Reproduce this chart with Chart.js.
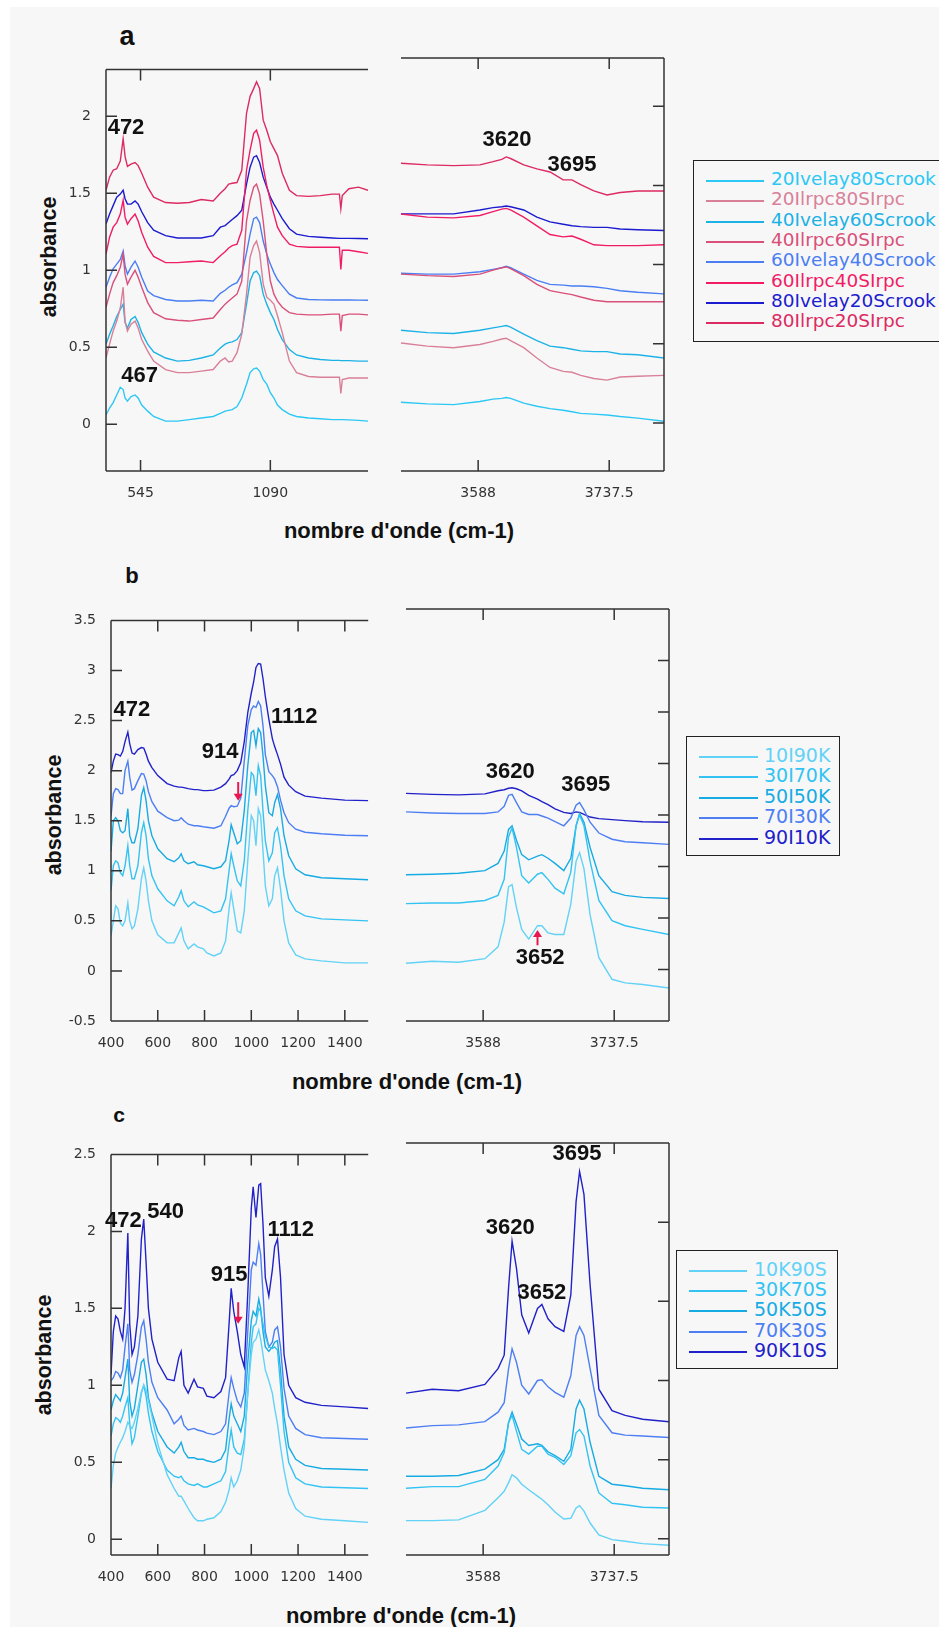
<!DOCTYPE html>
<html>
<head>
<meta charset="utf-8">
<title>spectres IR</title>
<script src="https://cdn.jsdelivr.net/npm/chart.js@4.4.1/dist/chart.umd.min.js"></script>
<style>
    body { margin: 0; background: #fff; }
    #page { position: relative; width: 939px; height: 1627px; overflow: hidden; background: #fff; }
    #sheet { position: absolute; left: 10px; top: 7px; right: 0; bottom: 0; background: #f7f7f7; }
    canvas { position: absolute; }
    .lbl { position: absolute; font-family: Arial, 'Liberation Sans', sans-serif; font-weight: bold; color: #111;
           white-space: nowrap; line-height: 1; transform: translate(-50%, -50%); }
    .ytitle { transform: translate(-50%, -50%) rotate(-90deg); }
    .legend-box { position: absolute; border: 1.5px solid #222; box-sizing: border-box; }
    .legend-line { position: absolute; height: 2px; }
    .legend-text { position: absolute; font-family: 'DejaVu Sans', Verdana, sans-serif; line-height: 1;
                   white-space: nowrap; transform: translateY(-50%); }
</style>
</head>
<body>
<div id="page">
    <div id="sheet"></div>

    <div class="lbl" style="left:127px; top:36px; font-size:27px;">a</div>
    <div class="lbl" style="left:132px; top:576px; font-size:22px;">b</div>
    <div class="lbl" style="left:119px; top:1114px; font-size:21px;">c</div>

    <div class="lbl ytitle" style="left:50px; top:257px; font-size:21.5px;">absorbance</div>
    <div class="lbl ytitle" style="left:55px; top:815px; font-size:21.5px;">absorbance</div>
    <div class="lbl ytitle" style="left:45px; top:1355px; font-size:21.5px;">absorbance</div>

    <div class="lbl" style="left:399px; top:531px; font-size:22px;">nombre d'onde (cm-1)</div>
    <div class="lbl" style="left:407px; top:1082px; font-size:22px;">nombre d'onde (cm-1)</div>
    <div class="lbl" style="left:401px; top:1616px; font-size:22px;">nombre d'onde (cm-1)</div>
</div>

<script>
// ---------- panel a ----------
const aNames = ['20Ivelay80Scrook', '20Ilrpc80SIrpc', '40Ivelay60Scrook', '40Ilrpc60SIrpc',
                '60Ivelay40Scrook', '60Ilrpc40SIrpc', '80Ivelay20Scrook', '80Ilrpc20SIrpc'];

const aLeftX = [400, 415, 430, 445, 460, 472, 480, 490, 505, 522, 535, 550, 575, 600, 650,
                700, 750, 800, 850, 880, 900, 915, 930, 950, 970, 990, 1005, 1020, 1032, 1045,
                1060, 1075, 1090, 1105, 1120, 1140, 1170, 1200, 1250, 1300, 1350, 1380, 1386, 1392, 1420,
                1460, 1500];
const aL1 = [0.06, 0.105, 0.14, 0.19, 0.24, 0.225, 0.17, 0.15, 0.18, 0.19, 0.17, 0.125, 0.085, 0.05, 0.02,
             0.02, 0.03, 0.04, 0.05, 0.07, 0.085, 0.09, 0.095, 0.115, 0.17, 0.26, 0.335, 0.36, 0.365, 0.345,
             0.29, 0.26, 0.205, 0.17, 0.125, 0.095, 0.065, 0.05, 0.04, 0.035, 0.03, 0.03, 0.03, 0.03, 0.028,
             0.025, 0.02];
const aL2 = [0.43, 0.52, 0.605, 0.67, 0.755, 0.89, 0.67, 0.605, 0.65, 0.67, 0.625, 0.55, 0.475, 0.41, 0.355,
             0.335, 0.335, 0.345, 0.355, 0.41, 0.43, 0.405, 0.41, 0.465, 0.585, 0.845, 1.085, 1.16, 1.19, 1.115,
             0.91, 0.825, 0.805, 0.78, 0.705, 0.595, 0.41, 0.335, 0.31, 0.305, 0.305, 0.305, 0.20, 0.29, 0.30,
             0.30, 0.30];
const aL3 = [0.52, 0.585, 0.64, 0.70, 0.745, 0.78, 0.66, 0.625, 0.68, 0.70, 0.66, 0.595, 0.52, 0.47, 0.43,
             0.41, 0.415, 0.43, 0.45, 0.495, 0.52, 0.53, 0.535, 0.55, 0.595, 0.78, 0.93, 0.985, 0.995, 0.965,
             0.845, 0.78, 0.725, 0.68, 0.615, 0.55, 0.485, 0.45, 0.43, 0.42, 0.415, 0.415, 0.413, 0.413, 0.413,
             0.41, 0.41];
const aL4 = [0.76, 0.845, 0.92, 0.965, 1.02, 1.105, 0.975, 0.91, 0.955, 1.00, 0.955, 0.89, 0.79, 0.725, 0.685,
             0.675, 0.67, 0.68, 0.69, 0.745, 0.78, 0.80, 0.82, 0.845, 0.93, 1.32, 1.455, 1.54, 1.56, 1.495,
             1.32, 1.105, 0.93, 0.845, 0.80, 0.76, 0.725, 0.715, 0.71, 0.71, 0.715, 0.715, 0.605, 0.705, 0.715,
             0.715, 0.71];
const aL5 = [0.89, 0.955, 1.01, 1.04, 1.07, 1.125, 1.03, 0.975, 1.02, 1.06, 1.02, 0.955, 0.865, 0.835, 0.81,
             0.80, 0.80, 0.805, 0.80, 0.85, 0.87, 0.89, 0.905, 0.92, 0.975, 1.115, 1.235, 1.335, 1.345, 1.31,
             1.19, 1.105, 1.04, 0.985, 0.94, 0.90, 0.845, 0.82, 0.81, 0.808, 0.807, 0.807, 0.807, 0.807, 0.807,
             0.806, 0.805];
const aL6 = [1.105, 1.215, 1.28, 1.31, 1.365, 1.455, 1.345, 1.30, 1.335, 1.365, 1.32, 1.245, 1.15, 1.09, 1.05,
             1.05, 1.055, 1.06, 1.05, 1.095, 1.12, 1.145, 1.16, 1.17, 1.26, 1.65, 1.78, 1.89, 1.91, 1.845,
             1.67, 1.55, 1.455, 1.365, 1.28, 1.225, 1.17, 1.155, 1.15, 1.15, 1.15, 1.15, 1.005, 1.13, 1.13,
             1.12, 1.11];
const aL7 = [1.30, 1.365, 1.42, 1.475, 1.495, 1.52, 1.465, 1.43, 1.43, 1.45, 1.43, 1.38, 1.31, 1.26, 1.225,
             1.21, 1.21, 1.21, 1.225, 1.28, 1.29, 1.31, 1.33, 1.355, 1.39, 1.56, 1.67, 1.735, 1.745, 1.70,
             1.605, 1.54, 1.475, 1.43, 1.39, 1.335, 1.27, 1.235, 1.22, 1.215, 1.21, 1.207, 1.207, 1.207, 1.207,
             1.206, 1.205];
const aL8 = [1.52, 1.605, 1.65, 1.66, 1.71, 1.855, 1.74, 1.675, 1.69, 1.70, 1.68, 1.63, 1.54, 1.475, 1.44,
             1.435, 1.44, 1.46, 1.45, 1.50, 1.53, 1.56, 1.565, 1.57, 1.65, 2.02, 2.13, 2.18, 2.225, 2.18,
             1.975, 1.91, 1.835, 1.79, 1.745, 1.63, 1.52, 1.485, 1.48, 1.485, 1.495, 1.495, 1.40, 1.485, 1.53,
             1.54, 1.52];

const aRightX = [3500, 3530, 3560, 3590, 3605, 3615, 3620, 3625, 3640, 3655,
                 3670, 3685, 3695, 3705, 3720, 3735, 3750, 3770, 3800];
const aR1 = [0.13, 0.12, 0.115, 0.135, 0.15, 0.155, 0.16, 0.155, 0.125, 0.105, 0.09, 0.08, 0.07, 0.06, 0.055, 0.05, 0.04, 0.03, 0.01];
const aR2 = [0.505, 0.485, 0.475, 0.495, 0.515, 0.53, 0.535, 0.52, 0.475, 0.41, 0.35, 0.325, 0.32, 0.30, 0.28, 0.27, 0.29, 0.295, 0.30];
const aR3 = [0.585, 0.57, 0.565, 0.585, 0.60, 0.61, 0.615, 0.605, 0.56, 0.52, 0.485, 0.475, 0.465, 0.455, 0.45, 0.45, 0.435, 0.43, 0.41];
const aR4 = [0.94, 0.93, 0.925, 0.94, 0.965, 0.98, 0.985, 0.975, 0.93, 0.875, 0.835, 0.82, 0.81, 0.795, 0.775, 0.765, 0.765, 0.765, 0.765];
const aR5 = [0.945, 0.94, 0.94, 0.955, 0.97, 0.98, 0.99, 0.98, 0.94, 0.90, 0.875, 0.87, 0.865, 0.865, 0.86, 0.85, 0.835, 0.825, 0.815];
const aR6 = [1.32, 1.30, 1.295, 1.31, 1.335, 1.35, 1.355, 1.345, 1.30, 1.245, 1.19, 1.175, 1.18, 1.16, 1.125, 1.12, 1.12, 1.12, 1.125];
const aR7 = [1.32, 1.32, 1.32, 1.345, 1.36, 1.365, 1.37, 1.365, 1.345, 1.30, 1.27, 1.255, 1.245, 1.24, 1.235, 1.235, 1.225, 1.22, 1.215];
const aR8 = [1.64, 1.63, 1.625, 1.63, 1.65, 1.665, 1.68, 1.67, 1.63, 1.605, 1.585, 1.535, 1.535, 1.505, 1.465, 1.44, 1.455, 1.465, 1.465];

const aXTicksLeft = [545, 1090];
const aYTicks = [0, 0.5, 1, 1.5, 2];

// ---------- panel b ----------
const bNames = ['10I90K', '30I70K', '50I50K', '70I30K', '90I10K'];

const bLeftX = [400, 410, 420, 430, 440, 450, 460, 472, 480, 490, 500, 515, 530, 540, 550, 560,
                575, 600, 640, 670, 690, 700, 712, 730, 755, 770, 795, 810, 840, 870, 890,
                905, 914, 925, 940, 955, 970, 985, 1000, 1010, 1020, 1030, 1040, 1050, 1060, 1075,
                1090, 1100, 1112, 1125, 1140, 1160, 1190, 1230, 1300, 1400, 1500];
const bL1 = [0.35, 0.50, 0.65, 0.62, 0.48, 0.45, 0.50, 0.68, 0.50, 0.42, 0.45, 0.62, 0.92, 1.03, 0.90, 0.70,
             0.50, 0.36, 0.28, 0.28, 0.38, 0.43, 0.30, 0.22, 0.27, 0.24, 0.22, 0.18, 0.15, 0.18, 0.30,
             0.62, 0.78, 0.62, 0.40, 0.38, 0.60, 1.10, 1.55, 1.50, 1.25, 1.62, 1.55, 1.20, 0.85, 0.65,
             0.72, 0.95, 1.03, 0.82, 0.50, 0.28, 0.16, 0.12, 0.10, 0.08, 0.08];
const bL2 = [0.80, 1.05, 1.10, 1.08, 0.98, 0.95, 1.05, 1.25, 1.05, 0.92, 0.92, 1.05, 1.38, 1.48, 1.35, 1.12,
             0.95, 0.82, 0.70, 0.65, 0.74, 0.80, 0.70, 0.64, 0.69, 0.66, 0.64, 0.62, 0.58, 0.60, 0.72,
             1.00, 1.17, 1.05, 0.90, 0.85, 1.10, 1.60, 1.98, 1.95, 1.75, 2.05, 1.95, 1.60, 1.30, 1.10,
             1.18, 1.38, 1.43, 1.25, 0.95, 0.72, 0.60, 0.55, 0.52, 0.51, 0.50];
const bL3 = [1.19, 1.50, 1.53, 1.50, 1.40, 1.38, 1.40, 1.62, 1.35, 1.28, 1.28, 1.42, 1.75, 1.83, 1.70, 1.50,
             1.35, 1.22, 1.12, 1.09, 1.13, 1.17, 1.10, 1.07, 1.09, 1.06, 1.05, 1.04, 1.02, 1.04, 1.10,
             1.30, 1.46, 1.38, 1.27, 1.30, 1.60, 2.05, 2.38, 2.40, 2.25, 2.42, 2.38, 2.15, 1.85, 1.58,
             1.55, 1.68, 1.76, 1.62, 1.35, 1.15, 1.02, 0.96, 0.93, 0.92, 0.91];
const bL4 = [1.545, 1.77, 1.82, 1.81, 1.77, 1.77, 2.0, 2.095, 1.935, 1.805, 1.82, 1.90, 1.97, 1.965, 1.90, 1.79,
             1.69, 1.595, 1.53, 1.50, 1.505, 1.53, 1.50, 1.465, 1.45, 1.45, 1.44, 1.435, 1.425, 1.45, 1.545,
             1.625, 1.65, 1.64, 1.645, 1.725, 2.095, 2.45, 2.61, 2.645, 2.63, 2.69, 2.645, 2.45, 2.16, 1.99,
             1.95, 1.915, 1.84, 1.705, 1.58, 1.48, 1.415, 1.385, 1.37, 1.355, 1.35];
const bL5 = [1.98, 2.095, 2.165, 2.16, 2.145, 2.19, 2.29, 2.385, 2.27, 2.175, 2.165, 2.21, 2.23, 2.225, 2.165, 2.095,
             2.03, 1.95, 1.87, 1.845, 1.835, 1.835, 1.83, 1.82, 1.81, 1.81, 1.80, 1.80, 1.805, 1.835, 1.87,
             1.915, 1.95, 1.96, 2.0, 2.08, 2.29, 2.58, 2.775, 2.885, 3.03, 3.07, 3.065, 2.92, 2.74, 2.515,
             2.32, 2.24, 2.16, 2.065, 1.935, 1.855, 1.79, 1.745, 1.725, 1.705, 1.70];

const rightX = [3500, 3530, 3560, 3590, 3605, 3612, 3617, 3621, 3626, 3632, 3640, 3650, 3655,
                3662, 3670, 3680, 3688, 3694, 3698, 3703, 3710, 3720, 3735, 3750, 3770, 3800];
const bR1 = [0.06, 0.08, 0.07, 0.105, 0.22, 0.46, 0.805, 0.825, 0.60, 0.39, 0.295, 0.425, 0.425,
             0.355, 0.34, 0.34, 0.635, 1.05, 1.135, 0.98, 0.53, 0.115, -0.095, -0.13, -0.145, -0.18];
const bR2 = [0.64, 0.645, 0.645, 0.67, 0.72, 0.875, 1.29, 1.375, 1.185, 0.91, 0.84, 0.925, 0.94,
             0.875, 0.79, 0.735, 0.945, 1.395, 1.50, 1.395, 1.05, 0.67, 0.475, 0.425, 0.39, 0.34];
const bR3 = [0.92, 0.925, 0.935, 0.96, 1.03, 1.15, 1.36, 1.395, 1.255, 1.115, 1.065, 1.10, 1.115,
             1.08, 1.03, 0.96, 1.08, 1.395, 1.515, 1.43, 1.185, 0.91, 0.755, 0.72, 0.70, 0.69];
const bR4 = [1.53, 1.52, 1.515, 1.515, 1.53, 1.585, 1.69, 1.70, 1.62, 1.53, 1.505, 1.505, 1.49,
             1.47, 1.435, 1.395, 1.47, 1.595, 1.62, 1.55, 1.43, 1.325, 1.265, 1.24, 1.23, 1.215];
const bR5 = [1.71, 1.70, 1.695, 1.705, 1.735, 1.745, 1.76, 1.765, 1.755, 1.735, 1.69, 1.655, 1.63,
             1.60, 1.56, 1.525, 1.515, 1.53, 1.525, 1.505, 1.48, 1.465, 1.455, 1.445, 1.435, 1.43];

const leftXTicks = [400, 600, 800, 1000, 1200, 1400];
const rightXTicks = [3588, 3737.5];
const bYTicks = [-0.5, 0, 0.5, 1, 1.5, 2, 2.5, 3, 3.5];

// ---------- panel c ----------
const cNames = ['10K90S', '30K70S', '50K50S', '70K30S', '90K10S'];

const cLeftX = [400, 410, 420, 430, 440, 450, 460, 472, 480, 490, 500, 515, 530, 540, 550, 560,
                575, 600, 640, 670, 690, 700, 712, 730, 755, 770, 795, 810, 840, 870, 890,
                905, 914, 925, 940, 955, 970, 985, 1000, 1008, 1020, 1032, 1040, 1050, 1060, 1075,
                1090, 1100, 1112, 1125, 1140, 1160, 1190, 1230, 1300, 1400, 1500];
const cL1 = [0.33, 0.48, 0.56, 0.60, 0.63, 0.66, 0.70, 0.76, 0.74, 0.72, 0.76, 0.85, 0.96, 1.00, 0.97, 0.90,
             0.80, 0.62, 0.42, 0.33, 0.28, 0.28, 0.25, 0.20, 0.14, 0.12, 0.12, 0.13, 0.14, 0.18, 0.24,
             0.32, 0.40, 0.34, 0.38, 0.45, 0.60, 0.95, 1.20, 1.28, 1.30, 1.36, 1.30, 1.20, 1.10, 1.03,
             0.95, 0.85, 0.75, 0.60, 0.45, 0.30, 0.20, 0.15, 0.13, 0.12, 0.11];
const cL2 = [0.67, 0.75, 0.79, 0.78, 0.76, 0.80, 0.86, 0.92, 0.75, 0.62, 0.66, 0.80, 0.95, 1.00, 0.93, 0.82,
             0.70, 0.57, 0.45, 0.41, 0.40, 0.41, 0.38, 0.36, 0.35, 0.36, 0.34, 0.34, 0.36, 0.38, 0.44,
             0.62, 0.71, 0.60, 0.56, 0.55, 0.65, 0.95, 1.28, 1.38, 1.40, 1.50, 1.48, 1.40, 1.32, 1.25,
             1.24, 1.25, 1.23, 1.00, 0.70, 0.50, 0.40, 0.36, 0.34, 0.335, 0.33];
const cL3 = [0.84, 0.90, 0.94, 0.92, 0.90, 0.95, 1.05, 1.17, 0.90, 0.80, 0.85, 1.00, 1.15, 1.17, 1.07, 0.92,
             0.82, 0.70, 0.60, 0.56, 0.60, 0.63, 0.57, 0.53, 0.53, 0.52, 0.52, 0.51, 0.50, 0.52, 0.58,
             0.78, 0.88, 0.80, 0.75, 0.70, 0.80, 1.15, 1.42, 1.48, 1.45, 1.56, 1.50, 1.35, 1.25, 1.22,
             1.25, 1.28, 1.29, 1.10, 0.80, 0.60, 0.52, 0.48, 0.46, 0.455, 0.45];
const cL4 = [1.03, 1.05, 1.09, 1.08, 1.05, 1.10, 1.25, 1.40, 1.10, 1.02, 1.07, 1.20, 1.38, 1.42, 1.30, 1.15,
             1.02, 0.92, 0.84, 0.75, 0.78, 0.80, 0.74, 0.71, 0.72, 0.71, 0.70, 0.69, 0.68, 0.70, 0.75,
             0.95, 1.05, 0.98, 0.90, 0.86, 0.95, 1.35, 1.75, 1.80, 1.78, 1.92, 1.85, 1.60, 1.35, 1.25,
             1.28, 1.36, 1.38, 1.25, 0.98, 0.80, 0.72, 0.68, 0.66, 0.655, 0.65];
const cL5 = [1.07, 1.35, 1.45, 1.43, 1.35, 1.30, 1.50, 1.99, 1.40, 1.20, 1.25, 1.45, 1.95, 2.08, 1.80, 1.50,
             1.30, 1.15, 1.04, 1.03, 1.18, 1.22, 1.00, 0.95, 1.04, 0.99, 0.98, 0.93, 0.92, 0.96, 1.05,
             1.40, 1.63, 1.48, 1.35, 1.20, 1.12, 1.60, 2.15, 2.29, 2.09, 2.30, 2.31, 2.05, 1.70, 1.58,
             1.75, 1.90, 1.95, 1.70, 1.20, 1.00, 0.92, 0.89, 0.87, 0.86, 0.85];

const cR1 = [0.115, 0.115, 0.12, 0.18, 0.26, 0.30, 0.355, 0.405, 0.385, 0.345, 0.31, 0.27, 0.25,
             0.215, 0.17, 0.125, 0.13, 0.195, 0.21, 0.175, 0.10, 0.025, -0.005, -0.015, -0.03, -0.04];
const cR2 = [0.32, 0.33, 0.33, 0.375, 0.46, 0.545, 0.735, 0.78, 0.68, 0.565, 0.535, 0.585, 0.585,
             0.535, 0.515, 0.47, 0.525, 0.67, 0.69, 0.65, 0.46, 0.29, 0.225, 0.215, 0.20, 0.195];
const cR3 = [0.395, 0.395, 0.40, 0.44, 0.50, 0.565, 0.735, 0.80, 0.725, 0.63, 0.59, 0.60, 0.59,
             0.55, 0.525, 0.49, 0.565, 0.82, 0.875, 0.82, 0.61, 0.395, 0.345, 0.335, 0.32, 0.31];
const cR4 = [0.70, 0.715, 0.72, 0.74, 0.80, 0.86, 1.075, 1.20, 1.115, 0.97, 0.915, 1.0, 1.005,
             0.96, 0.925, 0.895, 1.03, 1.285, 1.34, 1.285, 1.075, 0.78, 0.67, 0.655, 0.65, 0.64];
const cR5 = [0.92, 0.945, 0.935, 0.975, 1.075, 1.16, 1.585, 1.88, 1.71, 1.415, 1.30, 1.455, 1.48,
             1.39, 1.34, 1.31, 1.54, 2.13, 2.32, 2.175, 1.605, 0.945, 0.81, 0.78, 0.755, 0.74];

const cYTicks = [0, 0.5, 1, 1.5, 2, 2.5];

// pics annotés (nombre d'onde, absorbance)
const aNotesLeft = [{ t: '472', x: 484, y: 1.925 }, { t: '467', x: 541, y: 0.316 }];
const aNotesRight = [{ t: '3620', x: 3621, y: 1.79 }, { t: '3695', x: 3695, y: 1.63 }];
const bNotesLeft = [{ t: '472', x: 489, y: 2.605 }, { t: '914', x: 867, y: 2.186 }, { t: '1112', x: 1184, y: 2.54 }];
const bNotesRight = [{ t: '3620', x: 3619, y: 1.915 }, { t: '3695', x: 3705, y: 1.793 }, { t: '3652', x: 3653, y: 0.112 }];
const cNotesLeft = [{ t: '472', x: 453, y: 2.066 }, { t: '540', x: 634, y: 2.129 },
                    { t: '915', x: 905, y: 1.719 }, { t: '1112', x: 1169, y: 2.008 }];
const cNotesRight = [{ t: '3620', x: 3619, y: 1.965 }, { t: '3652', x: 3655, y: 1.555 }, { t: '3695', x: 3695, y: 2.431 }];

// flèches rouges (nombre d'onde, de, vers)
const bArrowsLeft = [{ x: 944, from: 1.886, to: 1.70 }];
const bArrowsRight = [{ x: 3650, from: 0.235, to: 0.384 }];
const cArrowsLeft = [{ x: 944, from: 1.54, to: 1.40 }];

// couleurs
const aColors = ['#2cc8f5', '#d98099', '#1cb2e6', '#d9507a', '#4a7ef2', '#f01d66', '#1c1ccf', '#dc2a62'];
const bcColors = ['#62d2f7', '#33c3f3', '#17abe3', '#4d7ff3', '#2121c9'];

const TICK_FONT = "'DejaVu Sans', Verdana, sans-serif";
const page = document.getElementById('page');

// cadre + graduations vers l'intérieur + annotations
const framePlugin = {
    id: 'frame',
    afterDatasetsDraw(chart, args, opts) {
        const ctx = chart.ctx;
        const a = chart.chartArea;
        const x = chart.scales.x;
        const y = chart.scales.y;
        const sx = opts.side === 'left' ? a.left : a.right;
        const dir = opts.side === 'left' ? 1 : -1;

        ctx.save();
        ctx.strokeStyle = '#333';
        ctx.lineWidth = 1.5;
        ctx.beginPath();
        ctx.moveTo(a.left, a.top); ctx.lineTo(a.right, a.top);
        ctx.moveTo(a.left, a.bottom); ctx.lineTo(a.right, a.bottom);
        ctx.moveTo(sx, a.top); ctx.lineTo(sx, a.bottom);
        x.ticks.forEach(t => {
            const px = x.getPixelForValue(t.value);
            ctx.moveTo(px, a.top); ctx.lineTo(px, a.top + 11);
            ctx.moveTo(px, a.bottom); ctx.lineTo(px, a.bottom - 11);
        });
        y.ticks.forEach(t => {
            const py = y.getPixelForValue(t.value);
            ctx.moveTo(sx, py); ctx.lineTo(sx + dir * 11, py);
        });
        ctx.stroke();

        ctx.fillStyle = '#111';
        ctx.font = 'bold 22px Arial, "Liberation Sans", sans-serif';
        ctx.textAlign = 'center';
        ctx.textBaseline = 'middle';
        (opts.notes || []).forEach(n => {
            ctx.fillText(n.t, x.getPixelForValue(n.x), y.getPixelForValue(n.y));
        });

        ctx.strokeStyle = '#e8184f';
        ctx.fillStyle = '#e8184f';
        ctx.lineWidth = 2;
        (opts.arrows || []).forEach(ar => {
            const px = x.getPixelForValue(ar.x);
            const p1 = y.getPixelForValue(ar.from);
            const p2 = y.getPixelForValue(ar.to);
            const s = p2 > p1 ? 1 : -1;
            ctx.beginPath();
            ctx.moveTo(px, p1); ctx.lineTo(px, p2 - s * 5);
            ctx.stroke();
            ctx.beginPath();
            ctx.moveTo(px, p2);
            ctx.lineTo(px - 4.5, p2 - s * 7);
            ctx.lineTo(px + 4.5, p2 - s * 7);
            ctx.closePath();
            ctx.fill();
        });
        ctx.restore();
    }
};

function makeChart(o) {
    const T = 12, B = 40, R = 4;
    const left = o.side === 'left' ? 20 : o.x0 - 4;
    const L = o.x0 - 20;
    const cv = document.createElement('canvas');
    cv.width = o.x1 + R - left;
    cv.height = o.y1 - o.y0 + T + B;
    cv.style.left = left + 'px';
    cv.style.top = (o.y0 - T) + 'px';
    page.appendChild(cv);

    const tickFont = { family: TICK_FONT, size: 14 };
    return new Chart(cv, {
        type: 'line',
        data: {
            datasets: o.series.map((s, i) => ({
                label: o.names[i],
                data: o.xs.map((xv, j) => ({ x: xv, y: s[j] })),
                borderColor: o.colors[i],
                borderWidth: 1.4,
                pointRadius: 0,
                tension: 0,
                fill: false
            }))
        },
        options: {
            responsive: false,
            animation: false,
            devicePixelRatio: 1,
            events: [],
            layout: { padding: { top: T, right: R, bottom: 0, left: o.side === 'left' ? 0 : 4 } },
            plugins: {
                legend: { display: false },
                tooltip: { enabled: false },
                frame: { side: o.side, notes: o.notes || [], arrows: o.arrows || [] }
            },
            scales: {
                x: {
                    type: 'linear', min: o.xMin, max: o.xMax,
                    grid: { display: false, drawTicks: false },
                    border: { display: false },
                    afterBuildTicks: s => { s.ticks = o.xTicks.map(v => ({ value: v })); },
                    afterFit: s => { s.height = B; },
                    ticks: { padding: 14, autoSkip: false, maxRotation: 0, color: '#333', font: tickFont,
                             callback: v => String(v) }
                },
                y: {
                    type: 'linear', position: o.side, min: o.yMin, max: o.yMax,
                    grid: { display: false, drawTicks: false },
                    border: { display: false },
                    afterBuildTicks: s => { s.ticks = o.yTicks.map(v => ({ value: v })); },
                    afterFit: s => { s.width = o.side === 'left' ? L : 0; },
                    ticks: { display: o.side === 'left', padding: 15, color: '#333', font: tickFont,
                             callback: v => String(v) }
                }
            }
        },
        plugins: [framePlugin]
    });
}

function makeLegend(names, colors, g) {
    const box = document.createElement('div');
    box.className = 'legend-box';
    box.style.left = g.left + 'px';
    box.style.top = g.top + 'px';
    box.style.width = g.width + 'px';
    box.style.height = g.height + 'px';
    page.appendChild(box);
    names.forEach((name, i) => {
        const yy = g.y0 + i * g.step;
        const line = document.createElement('div');
        line.className = 'legend-line';
        line.style.left = g.lx0 + 'px';
        line.style.width = (g.lx1 - g.lx0) + 'px';
        line.style.top = (yy - 1) + 'px';
        line.style.background = colors[i];
        page.appendChild(line);
        const txt = document.createElement('div');
        txt.className = 'legend-text';
        txt.textContent = name;
        txt.style.left = g.tx + 'px';
        txt.style.top = (yy - 2) + 'px';
        txt.style.fontSize = g.size + 'px';
        txt.style.color = colors[i];
        page.appendChild(txt);
    });
}

// panel a
makeChart({ side: 'left', x0: 106, x1: 368, y0: 58, y1: 471, xMin: 400, xMax: 1500, yMin: -0.304, yMax: 2.305,
            xs: aLeftX, series: [aL1, aL2, aL3, aL4, aL5, aL6, aL7, aL8], names: aNames, colors: aColors,
            xTicks: aXTicksLeft, yTicks: aYTicks, notes: aNotesLeft });
makeChart({ side: 'right', x0: 401, x1: 664, y0: 58, y1: 471, xMin: 3500, xMax: 3800, yMin: -0.304, yMax: 2.305,
            xs: aRightX, series: [aR1, aR2, aR3, aR4, aR5, aR6, aR7, aR8], names: aNames, colors: aColors,
            xTicks: rightXTicks, yTicks: aYTicks, notes: aNotesRight });
makeLegend(aNames, aColors, { left: 693, top: 160, width: 300, height: 182, lx0: 706, lx1: 764, tx: 771,
                              y0: 181, step: 20.35, size: 18.5 });

// panel b
makeChart({ side: 'left', x0: 111, x1: 373, y0: 609, y1: 1021, xMin: 400, xMax: 1500, yMin: -0.5, yMax: 3.5,
            xs: bLeftX, series: [bL1, bL2, bL3, bL4, bL5], names: bNames, colors: bcColors,
            xTicks: leftXTicks, yTicks: bYTicks, notes: bNotesLeft, arrows: bArrowsLeft });
makeChart({ side: 'right', x0: 406, x1: 669, y0: 609, y1: 1021, xMin: 3500, xMax: 3800, yMin: -0.5, yMax: 3.5,
            xs: rightX, series: [bR1, bR2, bR3, bR4, bR5], names: bNames, colors: bcColors,
            xTicks: rightXTicks, yTicks: bYTicks, notes: bNotesRight, arrows: bArrowsRight });
makeLegend(bNames, bcColors, { left: 686, top: 736, width: 154, height: 120, lx0: 699, lx1: 758, tx: 764,
                               y0: 757, step: 20.4, size: 19 });

// panel c
makeChart({ side: 'left', x0: 111, x1: 373, y0: 1143, y1: 1555, xMin: 400, xMax: 1500, yMin: -0.102, yMax: 2.5,
            xs: cLeftX, series: [cL1, cL2, cL3, cL4, cL5], names: cNames, colors: bcColors,
            xTicks: leftXTicks, yTicks: cYTicks, notes: cNotesLeft, arrows: cArrowsLeft });
makeChart({ side: 'right', x0: 406, x1: 669, y0: 1143, y1: 1555, xMin: 3500, xMax: 3800, yMin: -0.102, yMax: 2.5,
            xs: rightX, series: [cR1, cR2, cR3, cR4, cR5], names: cNames, colors: bcColors,
            xTicks: rightXTicks, yTicks: cYTicks, notes: cNotesRight });
makeLegend(cNames, bcColors, { left: 676, top: 1250, width: 162, height: 119, lx0: 689, lx1: 747, tx: 754,
                               y0: 1271, step: 20.2, size: 19 });
</script>
</body>
</html>
